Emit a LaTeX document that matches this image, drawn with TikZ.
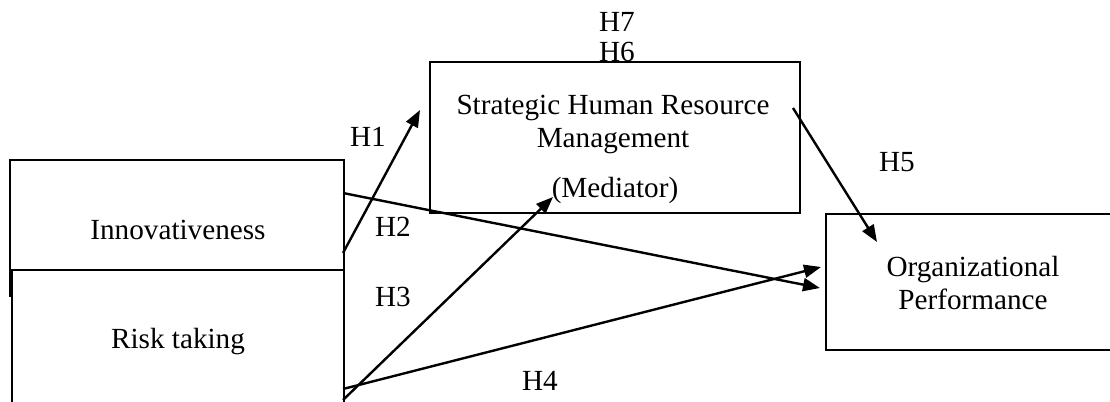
\documentclass[tikz,border=0pt]{standalone}
\usepackage{fontspec}
\setmainfont{Liberation Serif}
\usetikzlibrary{arrows.meta,fit}
\begin{document}
\begin{tikzpicture}[x=0.5pt,y=-0.5pt,
  box/.style={draw,line width=1.2pt,inner sep=0pt},
  lbl/.style={font=\fontsize{14.6}{16.5}\selectfont,inner sep=0pt,align=center},
  conn/.style={line width=1.2pt,-{Triangle[length=8.5pt,width=6.5pt]}},
  edge/.style={line width=1.2pt}]
\useasboundingbox (0,0) rectangle (1110,402);
\clip (0,0) rectangle (1110,402);
% boxes
\node[box,fit={(10,160)(344,270)}] (inno) {};
\node[box,fit={(12,270)(344,440)}] (risk) {};
\node[box,fit={(430,62)(800,213)}] (shrm) {};
\node[box,fit={(826,214)(1130,350)}] (perf) {};
\coordinate (innoL1) at (10,270);
\coordinate (innoL2) at (10,297);
\draw[edge] (innoL1) -- (innoL2);
% box texts
\node[lbl] (tinno) at (178,230) {Innovativeness};
\node[lbl] (trisk) at (178,342) {Risk taking};
\node[lbl] (tshrm) at (613,124) {Strategic Human Resource\\Management};
\node[lbl] (tmed) at (615,190) {(Mediator)};
\node[lbl] (tperf) at (973,283) {Organizational\\Performance};
% hypothesis labels
\node[lbl] (h7) at (617,22) {H7};
\node[lbl] (h6) at (617,52) {H6};
\node[lbl] (h1) at (368,137) {H1};
\node[lbl] (h2) at (393,227) {H2};
\node[lbl] (h3) at (393,297) {H3};
\node[lbl] (h4) at (540,381) {H4};
\node[lbl] (h5) at (897,162) {H5};
% connector end points
\coordinate (a1s) at (343,253); \coordinate (a1e) at (420,110);
\coordinate (a2s) at (343,193); \coordinate (a2e) at (820,288);
\coordinate (a3s) at (343,400); \coordinate (a3e) at (553,197);
\coordinate (a4s) at (343,389); \coordinate (a4e) at (821,267);
\coordinate (a5s) at (793,108); \coordinate (a5e) at (877,242);
\draw[conn] (a1s) -- (a1e);
\draw[conn] (a2s) -- (a2e);
\draw[conn] (a3s) -- (a3e);
\draw[conn] (a4s) -- (a4e);
\draw[conn] (a5s) -- (a5e);
\end{tikzpicture}
\end{document}
